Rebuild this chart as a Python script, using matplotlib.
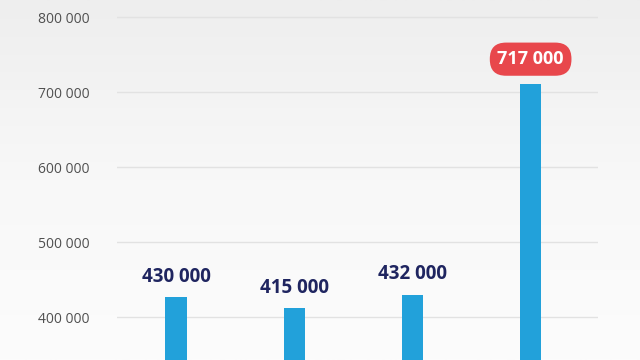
import numpy as np
import matplotlib.pyplot as plt
from matplotlib.ticker import FuncFormatter

# values
positions = [0, 1, 2, 3]
bar_values = [427000, 412000, 430500, 711000]
bar_labels = ["430 000", "415 000", "432 000", "717 000"]
highlight = [False, False, False, True]
yticks = [400000, 500000, 600000, 700000, 800000]

blue = "#22a1da"
navy = "#1f2560"
red = "#e8474c"

fig = plt.figure(figsize=(6.4, 3.6), dpi=100)

# soft vertical gradient in the background
bg = fig.add_axes([0, 0, 1, 1], zorder=-2)
grad = np.linspace(0, 1, 256).reshape(-1, 1)
bg.imshow(grad, aspect="auto", cmap=plt.matplotlib.colors.LinearSegmentedColormap.from_list(
    "bg", ["#eeeeee", "#f8f8f8", "#fcfcfc"]), extent=[0, 1, 0, 1])
bg.axis("off")

ax = fig.add_axes([117 / 640, 0, 481 / 640, 1])
ax.set_facecolor("none")
ax.bar(positions, bar_values, width=0.18, color=blue, zorder=3)

ax.set_xlim(-0.5, 3.57)
ax.set_ylim(343150, 823250)
ax.set_yticks(yticks)
ax.yaxis.set_major_formatter(FuncFormatter(lambda v, p: f"{int(v):,}".replace(",", " ")))
ax.grid(axis="y", color="#e2e2e2", linewidth=1, zorder=0)
ax.set_xticks([])
ax.tick_params(axis="y", length=0, pad=20, labelsize=10, labelcolor="#505050")
for lab in ax.get_yticklabels():
    lab.set_family("Open Sans")
for s in ax.spines.values():
    s.set_visible(False)

for x, v, t, h in zip(positions, bar_values, bar_labels, highlight):
    if h:
        ax.annotate(t, (x, v), xytext=(0, 18), textcoords="offset points",
                    ha="center", va="center", fontsize=13, fontweight="bold",
                    family="Open Sans", color="white", zorder=5,
                    bbox=dict(boxstyle="round,pad=0.42,rounding_size=0.9",
                              fc=red, ec="none"))
    else:
        ax.annotate(t, (x, v), xytext=(0, 14.5), textcoords="offset points",
                    ha="center", va="center", fontsize=13.5, fontweight="bold",
                    family="Open Sans", color=navy, zorder=5)

fig.savefig("out.png", dpi=100)
